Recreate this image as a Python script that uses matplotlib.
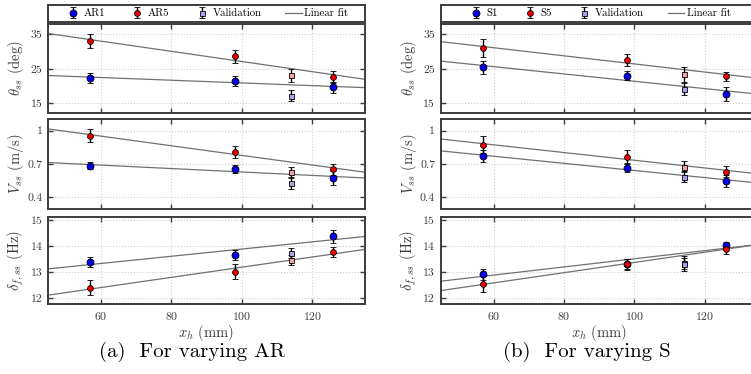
import numpy as np
import matplotlib
matplotlib.use("Agg")
import matplotlib.pyplot as plt

plt.rcParams["font.family"] = "serif"
plt.rcParams["font.serif"] = ["cmr10"]
plt.rcParams["mathtext.fontset"] = "cm"
plt.rcParams["axes.formatter.use_mathtext"] = True
plt.rcParams["axes.unicode_minus"] = False

# Hinge positions (mm)
x_main = [57, 98, 126]
x_val = [114]

# (a) varying aspect ratio
ar1_theta, ar1_theta_err = [22.4, 21.5, 19.6], [1.5, 1.4, 1.7]
ar5_theta, ar5_theta_err = [33.0, 28.6, 22.6], [2.0, 2.0, 1.7]
ar1_vel, ar1_vel_err = [0.685, 0.655, 0.574], [0.033, 0.04, 0.063]
ar5_vel, ar5_vel_err = [0.955, 0.808, 0.652], [0.058, 0.054, 0.048]
ar1_freq, ar1_freq_err = [13.37, 13.64, 14.37], [0.2, 0.2, 0.25]
ar5_freq, ar5_freq_err = [12.39, 13.01, 13.77], [0.3, 0.3, 0.2]
val_ar1 = {"theta": (17.2, 1.6), "vel": (0.526, 0.048), "freq": (13.73, 0.2)}
val_ar5 = {"theta": (23.1, 1.8), "vel": (0.628, 0.048), "freq": (13.45, 0.2)}

# (b) varying stiffness
s1_theta, s1_theta_err = [25.4, 23.0, 17.8], [2.0, 1.3, 2.0]
s5_theta, s5_theta_err = [31.1, 27.6, 22.8], [2.6, 1.8, 1.3]
s1_vel, s1_vel_err = [0.772, 0.667, 0.547], [0.052, 0.04, 0.05]
s5_vel, s5_vel_err = [0.874, 0.763, 0.63], [0.075, 0.06, 0.05]
s1_freq, s1_freq_err = [12.9, 13.3, 14.02], [0.22, 0.2, 0.15]
s5_freq, s5_freq_err = [12.53, 13.29, 13.9], [0.3, 0.2, 0.2]
val_s1 = {"theta": (19.1, 1.7), "vel": (0.586, 0.05), "freq": (13.3, 0.25)}
val_s5 = {"theta": (23.4, 2.2), "vel": (0.676, 0.05), "freq": (13.35, 0.25)}

BLUE, RED = "#0000ee", "#ee0000"
VBLUE, VRED = "#a3a3ee", "#f2a3a3"
FRAME = "#3c3c3c"

ylabels = [r"$\theta_{ss}$ (deg)", r"$V_{ss}$ (m/s)", r"$\delta_{f,ss}$ (Hz)"]
ylims = [(12.2, 38.0), (0.295, 1.105), (11.76, 15.12)]
yticks = [[15, 25, 35], [0.4, 0.7, 1.0], [12, 13, 14, 15]]
yticklabels = [["15", "25", "35"], ["0.4", "0.7", "1"], ["12", "13", "14", "15"]]

fig = plt.figure(figsize=(7.51, 3.74), dpi=100)

W = 317 / 751
rows = [(1 - 113 / 374, 89 / 374), (1 - 209 / 374, 90 / 374), (1 - 304 / 374, 87 / 374)]
fit_x = np.array([45, 135])


def style_frame(ax):
    for s in ax.spines.values():
        s.set_color(FRAME)
        s.set_linewidth(1.4)


def draw_column(x0, names, series, vals, caption, cap_x):
    axes = []
    for i, (y0, h) in enumerate(rows):
        ax = fig.add_axes([x0, y0, W, h])
        axes.append(ax)
        (lo, lo_err), (hi, hi_err) = series[i]
        key = ["theta", "vel", "freq"][i]
        # linear fits through the three hinge positions
        for y in (lo, hi):
            k, b = np.polyfit(x_main, y, 1)
            ax.plot(fit_x, k * fit_x + b, color="#707070", lw=0.9, zorder=2,
                    label="Linear fit" if y is lo else None)
        eb = dict(fmt="o", ecolor="black", elinewidth=1.0, capsize=2.5,
                  capthick=1.0, mec="black", mew=0.6, zorder=4)
        ax.errorbar(x_main, lo, yerr=lo_err, mfc=BLUE, ms=5, label=names[0], **eb)
        ax.errorbar(x_main, hi, yerr=hi_err, mfc=RED, ms=4.2, label=names[1], **eb)
        eb["fmt"] = "s"
        ax.errorbar(x_val, [vals[1][key][0]], yerr=[vals[1][key][1]], mfc=VRED, ms=3.6, **eb)
        ax.errorbar(x_val, [vals[0][key][0]], yerr=[vals[0][key][1]], mfc=VBLUE, ms=3.6,
                    label="Validation", **eb)

        ax.set_xlim(45, 135)
        ax.set_ylim(*ylims[i])
        ax.set_xticks([60, 80, 100, 120])
        ax.set_yticks(yticks[i])
        ax.set_yticklabels(yticklabels[i])
        ax.grid(True, color="#cfcfcf", ls=":", lw=0.8)
        ax.tick_params(direction="in", top=True, right=True, length=3.5,
                       width=1.0, colors=FRAME, labelsize=8.5, pad=4)
        style_frame(ax)
        ax.set_ylabel(ylabels[i], fontsize=10.5, color=FRAME)
        ax.yaxis.set_label_coords(-0.07, 0.5)
        if i < 2:
            ax.tick_params(labelbottom=False)
        else:
            ax.set_xlabel(r"$x_h$ (mm)", fontsize=10.5, color=FRAME, labelpad=1)

    # legend in its own framed strip above the top panel
    box = fig.add_axes([x0, 1 - 22 / 374, W, 17 / 374])
    box.set_xticks([])
    box.set_yticks([])
    style_frame(box)
    h, l = axes[0].get_legend_handles_labels()
    order = [l.index(n) for n in (names[0], names[1], "Validation", "Linear fit")]
    box.legend([h[j] for j in order], [l[j] for j in order], loc="center",
               ncol=4, fontsize=7.8, frameon=False, handlelength=1.5,
               handletextpad=0.25, borderaxespad=0, columnspacing=2.2)
    fig.text(cap_x, 1 - 352 / 374, caption, ha="center", va="center", fontsize=15)


draw_column(48 / 751, ("AR1", "AR5"),
            [((ar1_theta, ar1_theta_err), (ar5_theta, ar5_theta_err)),
             ((ar1_vel, ar1_vel_err), (ar5_vel, ar5_vel_err)),
             ((ar1_freq, ar1_freq_err), (ar5_freq, ar5_freq_err))],
            (val_ar1, val_ar5), "(a)  For varying AR", 192 / 751)

draw_column(440.7 / 751, ("S1", "S5"),
            [((s1_theta, s1_theta_err), (s5_theta, s5_theta_err)),
             ((s1_vel, s1_vel_err), (s5_vel, s5_vel_err)),
             ((s1_freq, s1_freq_err), (s5_freq, s5_freq_err))],
            (val_s1, val_s5), "(b)  For varying S", 587 / 751)

fig.savefig("out.png", dpi=100)
